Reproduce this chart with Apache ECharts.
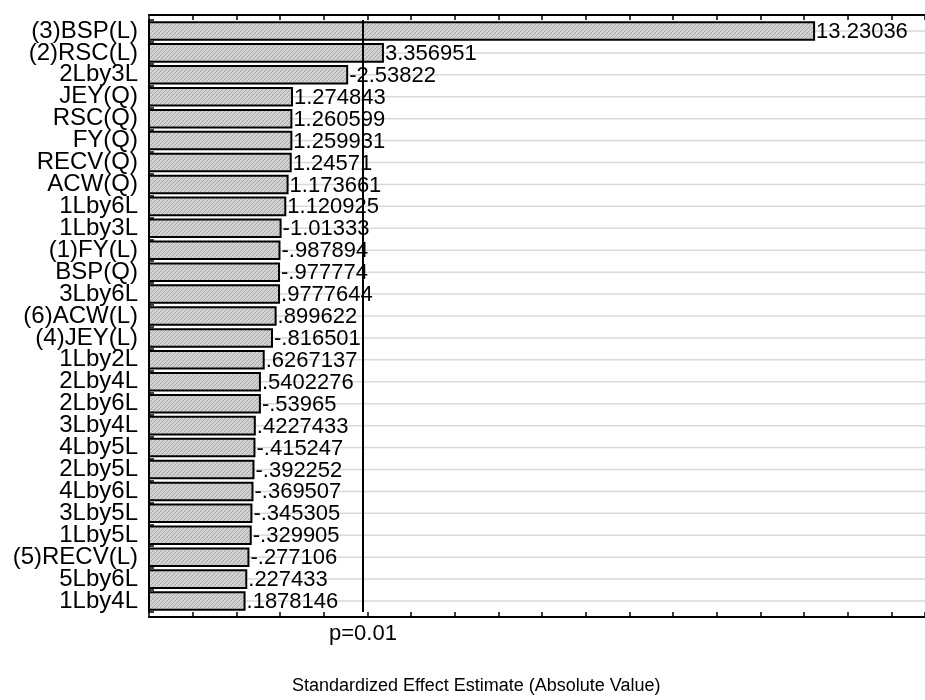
<!DOCTYPE html>
<html>
<head>
<meta charset="utf-8">
<script src="https://cdn.jsdelivr.net/npm/echarts@6/dist/echarts.min.js"></script>
<style>html,body{margin:0;padding:0;background:#fff}#chart{width:925px;height:700px}</style>
</head>
<body>
<div id="chart"></div>
<script>
const CATEGORIES = ['(3)BSP(L)', '(2)RSC(L)', '2Lby3L', 'JEY(Q)', 'RSC(Q)', 'FY(Q)', 'RECV(Q)', 'ACW(Q)', '1Lby6L', '1Lby3L', '(1)FY(L)', 'BSP(Q)', '3Lby6L', '(6)ACW(L)', '(4)JEY(L)', '1Lby2L', '2Lby4L', '2Lby6L', '3Lby4L', '4Lby5L', '2Lby5L', '4Lby6L', '3Lby5L', '1Lby5L', '(5)RECV(L)', '5Lby6L', '1Lby4L'];
const EFFECTS = [13.23036, 3.356951, -2.53822, 1.274843, 1.260599, 1.259931, 1.24571, 1.173661, 1.120925, -1.01333, -0.987894, -0.977774, 0.9777644, 0.899622, -0.816501, 0.6267137, 0.5402276, -0.53965, 0.4227433, -0.415247, -0.392252, -0.369507, -0.345305, -0.329905, -0.277106, 0.227433, 0.1878146];
const P_CRIT = 2.898;
const P_LABEL = 'p=0.01';
const X_MIN = -2;
const X_MAX = 15.77;
const X_TITLE = 'Standardized Effect Estimate (Absolute Value)';

const FONT = 'Liberation Sans, Arial, sans-serif';

function fmt(v) {
  let s = v.toPrecision(7);
  if (s.indexOf('.') >= 0) s = s.replace(/0+$/, '').replace(/\.$/, '');
  return s.replace(/^(-?)0\./, '$1.');
}

// hatch pattern
const pc = document.createElement('canvas');
pc.width = 4; pc.height = 4;
const g = pc.getContext('2d');
g.fillStyle = '#d2d2d2'; g.fillRect(0, 0, 4, 4);
g.fillStyle = '#a8a8a8';
for (let i = 0; i < 4; i++) g.fillRect(i, 3 - i, 1, 1);
const HATCH = { image: pc, repeat: 'repeat' };

const chart = echarts.init(document.getElementById('chart'), null, { renderer: 'canvas' });

function renderItem(params, api) {
  const v = api.value(0), ci = api.value(1);
  const p0 = api.coord([X_MIN, ci]);
  const p1 = api.coord([v, ci]);
  const pe = api.coord([X_MAX, ci]);
  const band = api.size([0, 1])[1];
  const h = band * 0.8;
  return {
    type: 'group',
    children: [
      { type: 'line', shape: { x1: p0[0], y1: p0[1], x2: pe[0], y2: pe[1] }, style: { stroke: '#d9d9d9', lineWidth: 1.5 } },
      { type: 'rect', shape: { x: p0[0], y: p0[1] - h / 2, width: p1[0] - p0[0], height: h }, style: { fill: HATCH, stroke: '#000', lineWidth: 2 } },
      { type: 'text', style: { text: fmt(EFFECTS[params.dataIndex]), x: p1[0] + 2, y: p1[1] + 1, align: 'left', verticalAlign: 'middle', fill: '#000', fontSize: 22, fontFamily: FONT } }
    ]
  };
}

const xAxisBase = {
  type: 'value', min: X_MIN, max: X_MAX, interval: 1, offset: 5,
  axisLine: { show: true, onZero: false, lineStyle: { color: '#000', width: 2 } },
  axisTick: { show: true, inside: true, length: 5, lineStyle: { color: '#000', width: 1.5 } },
  axisLabel: { show: false }, splitLine: { show: false }
};

chart.setOption({
  animation: false,
  backgroundColor: '#fff',
  title: {
    text: X_TITLE, left: 287, top: 672,
    textStyle: { fontSize: 18, fontWeight: 'normal', color: '#000', fontFamily: FONT }
  },
  grid: { left: 149, right: 0, top: 20, bottom: 88 },
  xAxis: [
    Object.assign({}, xAxisBase, { position: 'bottom' }),
    Object.assign({}, xAxisBase, { position: 'top' })
  ],
  yAxis: [
    {
      type: 'category', data: CATEGORIES, inverse: true,
      axisLine: { show: false, onZero: false }, axisTick: { show: false },
      axisLabel: { interval: 0, fontSize: 24, color: '#000', margin: 11, fontFamily: FONT },
      splitLine: { show: false }
    },
    {
      type: 'value', min: 0, max: CATEGORIES.length, interval: 1, inverse: true, position: 'left',
      axisLine: { show: true, onZero: false, lineStyle: { color: '#000', width: 2 } },
      axisTick: { show: true, inside: true, length: 5, lineStyle: { color: '#000', width: 1.5 } },
      minorTick: { show: true, splitNumber: 3, length: 3, lineStyle: { color: '#000', width: 1 } },
      axisLabel: { show: false }, splitLine: { show: false }, minorSplitLine: { show: false }
    }
  ],
  series: [
    {
      type: 'custom', xAxisIndex: 0, yAxisIndex: 0,
      renderItem: renderItem,
      encode: { x: 0, y: 1 },
      data: EFFECTS.map((v, i) => [Math.abs(v), i])
    },
    {
      type: 'line', xAxisIndex: 0, yAxisIndex: 0, data: [], z: 5,
      markLine: {
        silent: true, symbol: 'none',
        lineStyle: { color: '#000', width: 2, type: 'solid' },
        label: { show: true, position: 'end', formatter: P_LABEL, color: '#000', fontSize: 22, fontFamily: FONT, distance: 11 },
        data: [{ xAxis: P_CRIT }]
      }
    }
  ]
});
</script>
</body>
</html>
